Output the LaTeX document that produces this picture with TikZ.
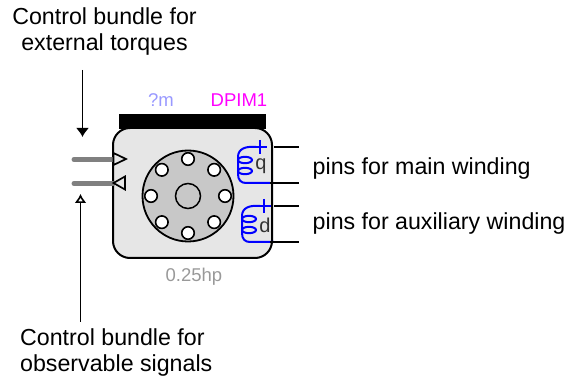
\documentclass[tikz,border=0pt]{standalone}
\usepackage{fontspec}
\setmainfont{Liberation Sans}
\usepackage{xcolor}
\usetikzlibrary{arrows.meta,positioning,calc}
\definecolor{bodygray}{HTML}{E6E6E6}
\definecolor{rotorgray}{HTML}{C8C8C8}
\definecolor{busgray}{HTML}{808080}
\definecolor{namemag}{HTML}{FF00FF}
\definecolor{sizeblue}{HTML}{9999FF}
\definecolor{coilblue}{HTML}{0000FF}
\tikzset{
  lbl/.style={align=center,font=\fontsize{23.2}{26.5}\selectfont,inner sep=0pt,text=black},
  iconlbl/.style={font=\fontsize{18.5}{20}\selectfont,inner sep=0pt},
  hole/.style={draw,circle,line width=1.6pt,fill=white,minimum size=12.5pt,inner sep=0pt,outer sep=0pt},
  coil/.style={draw=coilblue,line width=2pt,line cap=round},
  pin/.style={draw=black,line width=1.4pt},
  bus/.style={draw=busgray,line width=5pt,line cap=round},
  port/.style={draw=black,line width=1.7pt,fill=bodygray,line join=miter},
}
\begin{document}
\begin{tikzpicture}[x=1pt,y=-1pt,>=Latex]
\useasboundingbox (0,0) rectangle (566,377);
\node[lbl] (torques) at (104.5,31.5) {Control bundle for\\external torques};
\node[lbl,align=left,anchor=west] (signals) at (20,352.5) {Control bundle for\\observable signals};
\node[lbl,anchor=west] (mainpins) at (312.5,169) {pins for main winding};
\node[lbl,below=55pt of mainpins.west,anchor=west] (auxpins) {pins for auxiliary winding};
\node[draw=black,line width=2pt,fill=bodygray,rounded corners=17pt,minimum width=159pt,minimum height=130pt,outer sep=0pt] (motor) at (192.5,193) {};
\node[fill=black,minimum width=147pt,minimum height=15pt,inner sep=0pt,outer sep=0pt] (bar) at (192.5,121.5) {};
\node[iconlbl,text=sizeblue] (sizelbl) at (161,100) {?m};
\node[iconlbl,text=namemag] (namelbl) at (239,100) {DPIM1};
\node[iconlbl,text=black!40] (ratinglbl) at (194,277) {0.25hp};
% rotor
\node[draw,circle,line width=1.8pt,fill=rotorgray,minimum size=91pt,inner sep=0pt,outer sep=0pt] (rotor) at (188,196) {};
\node[draw,circle,line width=1.5pt,fill=rotorgray,minimum size=25pt,inner sep=0pt,outer sep=0pt] (hub) at (rotor) {};
\foreach \a in {0,45,...,315}
  \node[hole] (hole\a) at ($(rotor)+(\a:37pt)$) {};
% control ports
\coordinate (tqtail) at (74,159.5);
\coordinate (sigtail) at (74,183.5);
\draw[bus] (tqtail) -- (113,159.5);
\draw[bus] (sigtail) -- (113,183.5);
\draw[port] (113.5,153) -- (126,159) -- (113.5,165) -- cycle;
\draw[port] (125,176.5) -- (113.5,183) -- (125,189.5) -- cycle;
\coordinate (tqstart) at (82.5,70);
\coordinate (tqend) at (82.5,137);
\coordinate (sigstart) at (80.5,322);
\coordinate (sigend) at (80.5,194);
\draw[line width=1.6pt,-{Latex[length=9pt,width=13pt]}] (tqstart) -- (tqend);
\draw[line width=1.6pt,-{Latex[open,fill=white,length=9pt,width=12pt]}] (sigstart) -- (sigend);
% windings
\foreach \yy/\xx/\nm in {147/0/q,206/4/d}{
  \begin{scope}[shift={(\xx,\yy)}]
    \draw[coil] (256,0) .. controls (245,-1) and (238,2) .. (238,10) -- (238,27) .. controls (238,33) and (241,36) .. (246,36) -- (270,36);
    \draw[coil] (245,13) ellipse (7pt and 3.2pt);
    \draw[coil] (245,24) ellipse (7pt and 3.2pt);
    \draw[coil,line cap=butt] (260,-7) -- (260,7) (253,0) -- (267,0);
    \node[iconlbl,font=\fontsize{20}{22}\selectfont,text=black!80] (coil\nm) at (261,19) {\nm};
  \end{scope}
}
\draw[pin] (274,147) -- (299,147);
\draw[pin] (270,183) -- (299,183);
\draw[pin] (274,206) -- (299,206);
\draw[pin] (270,242) -- (299,242);
\end{tikzpicture}
\end{document}
